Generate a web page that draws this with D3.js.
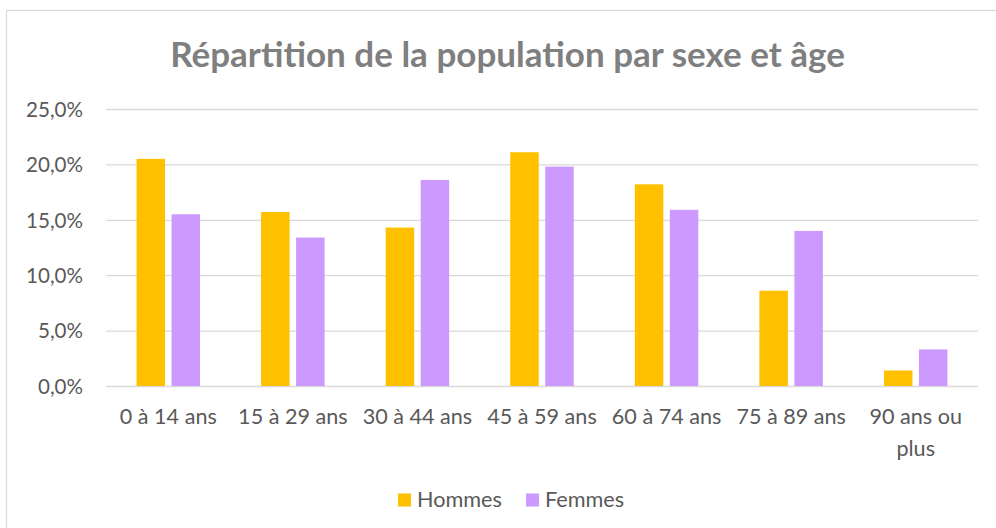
<!DOCTYPE html>
<html lang="fr">
<head>
<meta charset="utf-8">
<title>Répartition de la population par sexe et âge</title>
<script src="https://cdn.jsdelivr.net/npm/d3@7/dist/d3.min.js"></script>
<style>
  html, body { margin: 0; padding: 0; background: #ffffff; }
  svg { display: block; }
  text { font-family: Lato, "Open Sans", "Liberation Sans", sans-serif; }
</style>
</head>
<body>
<div id="chart"></div>
<script>
// Age groups (x axis), with the two series of shares in percent
const categories = ["0 à 14 ans", "15 à 29 ans", "30 à 44 ans", "45 à 59 ans", "60 à 74 ans", "75 à 89 ans", "90 ans ou plus"];
const categoryLines = [["0 à 14 ans"], ["15 à 29 ans"], ["30 à 44 ans"], ["45 à 59 ans"], ["60 à 74 ans"], ["75 à 89 ans"], ["90 ans ou", "plus"]];
const seriesNames = ["Hommes", "Femmes"];
const hommes = [20.5, 15.7, 14.3, 21.1, 18.2, 8.6, 1.4];
const femmes = [15.5, 13.4, 18.6, 19.8, 15.9, 14.0, 3.3];
const yTicks = [0, 5, 10, 15, 20, 25];
const seriesColors = ["#FFC000", "#CC99FF"];
const titleText = "Répartition de la population par sexe et âge";

const W = 996, H = 528;
const plot = { left: 106, right: 978, top: 109, bottom: 386 };

const svg = d3.select("#chart").append("svg")
  .attr("width", W).attr("height", H);

// chart frame
svg.append("rect")
  .attr("x", 6.5).attr("y", 10.5)
  .attr("width", W + 20).attr("height", H + 20)
  .attr("fill", "#ffffff")
  .attr("stroke", "#d9d9d9").attr("stroke-width", 1.2);

// size a font so that a sample string spans the wanted width
function fitSize(sample, weight, width) {
  const t = svg.append("text").attr("font-size", 20).attr("font-weight", weight).text(sample);
  const w = t.node().getComputedTextLength();
  t.remove();
  return 20 * width / w;
}
const titleSize = fitSize(titleText, "bold", 675);
const tickSize = fitSize("0 à 14 ans", "normal", 97);
const ySize = fitSize("25,0%", "normal", 57);
const legendSize = fitSize("Hommes", "normal", 85);

const x0 = d3.scaleBand().domain(categories).range([plot.left, plot.right]).padding(0);
const x1 = d3.scaleBand().domain(seriesNames).range([0, x0.bandwidth()])
  .paddingInner(0.186).paddingOuter(0.873);
const y = d3.scaleLinear().domain([0, 25]).range([plot.bottom, plot.top]);
const color = d3.scaleOrdinal().domain(seriesNames).range(seriesColors);

// title
svg.append("text")
  .attr("x", (170 + 845) / 2).attr("y", 67)
  .attr("text-anchor", "middle")
  .attr("font-size", titleSize).attr("font-weight", "bold")
  .attr("fill", "#7f7f7f")
  .text(titleText);

// horizontal gridlines
const yAxis = d3.axisLeft(y).tickValues(yTicks)
  .tickSize(-(plot.right - plot.left))
  .tickFormat(d => d3.format(".1f")(d).replace(".", ",") + "%")
  .tickPadding(23);
const gy = svg.append("g").attr("transform", `translate(${plot.left},0)`).call(yAxis);
gy.select(".domain").remove();
gy.selectAll(".tick line").attr("stroke", "#d9d9d9").attr("stroke-width", 1.3);
gy.selectAll(".tick text")
  .attr("fill", "#595959").attr("font-size", ySize)
  .attr("dy", "0.35em");

// bars
const rows = categories.map((c, i) => ({ cat: c, values: [hommes[i], femmes[i]] }));
const groups = svg.append("g").selectAll("g").data(rows).join("g")
  .attr("transform", d => `translate(${x0(d.cat)},0)`);
groups.selectAll("rect")
  .data(d => d.values.map((v, k) => ({ key: seriesNames[k], value: v })))
  .join("rect")
  .attr("x", d => x1(d.key))
  .attr("width", x1.bandwidth())
  .attr("y", d => y(d.value))
  .attr("height", d => y(0) - y(d.value))
  .attr("fill", d => color(d.key));

// category labels
const xAxis = d3.axisBottom(x0).tickSize(0).tickFormat(() => "");
const gx = svg.append("g").attr("transform", `translate(0,${plot.bottom})`).call(xAxis);
gx.select(".domain").remove();
gx.selectAll(".tick").each(function (d, i) {
  const t = d3.select(this).append("text")
    .attr("text-anchor", "middle")
    .attr("fill", "#595959")
    .attr("font-size", tickSize);
  categoryLines[i].forEach((line, j) => {
    t.append("tspan").attr("x", 0).attr("y", 38 + j * 31.7).text(line);
  });
});

// legend
const legend = svg.append("g");
const legendItems = [{ name: "Hommes", sx: 398, tx: 417 }, { name: "Femmes", sx: 526, tx: 545 }];
legendItems.forEach(item => {
  legend.append("rect")
    .attr("x", item.sx).attr("y", 493.5)
    .attr("width", 13).attr("height", 13)
    .attr("fill", color(item.name));
  legend.append("text")
    .attr("x", item.tx).attr("y", 506.5)
    .attr("fill", "#595959").attr("font-size", legendSize)
    .text(item.name);
});
</script>
</body>
</html>
